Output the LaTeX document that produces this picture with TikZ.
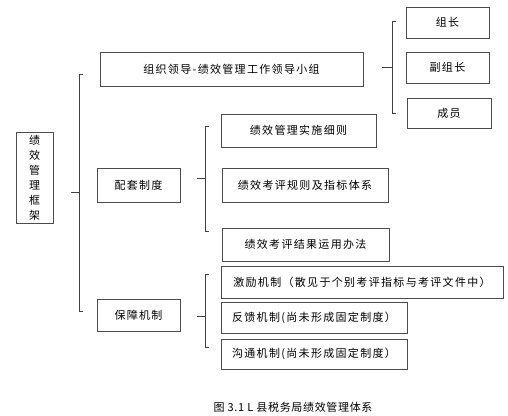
\documentclass[tikz,border=0pt]{standalone}
\usepackage{fontspec}
\newfontfamily\cjk[LetterSpace=12]{Noto Sans CJK SC}
\newfontfamily\cjkcap[LetterSpace=6]{Noto Sans CJK SC}
\usetikzlibrary{calc, shadows}

\begin{document}
\begin{tikzpicture}[x=1pt, y=-1pt,
    box/.style={draw=black!70, line width=0.9pt, fill=white, font=\cjk\fontsize{11}{15}\selectfont,
        inner sep=0pt, drop shadow={shadow xshift=1.3pt, shadow yshift=-1.3pt, fill=black!75, opacity=1}},
    brace/.style={draw=black!75, line width=0.8pt}]

    \useasboundingbox (0,0) rectangle (508,415);

    \node[box, minimum width=37, minimum height=91, align=center] (frame) at (34.5,177.5)
        {绩\\效\\管\\理\\框\\架};

    \node[box, minimum width=263, minimum height=34] (lead) at (231.5,69) {组织领导-绩效管理工作领导小组};
    \node[box, minimum width=83, minimum height=34] (rules) at (138.5,185) {配套制度};
    \node[box, minimum width=83, minimum height=32] (guard) at (138.5,315) {保障机制};

    \node[box, minimum width=155, minimum height=33] (detail) at (298.5,130.5) {绩效管理实施细则};
    \node[box, minimum width=166, minimum height=34] (index) at (305,185) {绩效考评规则及指标体系};
    \node[box, minimum width=167, minimum height=33] (usage) at (305.5,244.5) {绩效考评结果运用办法};

    \node[box, minimum width=282, minimum height=32] (spur) at (362,282) {激励机制（散见于个别考评指标与考评文件中）};
    \node[box, minimum width=186, minimum height=31] (back) at (314,317.5) {反馈机制(尚未形成固定制度）};
    \node[box, minimum width=186, minimum height=30] (talk) at (314,354) {沟通机制(尚未形成固定制度）};

    \node[box, minimum width=83, minimum height=31] (head) at (447.5,22.5) {组长};
    \node[box, minimum width=83, minimum height=31] (vice) at (447.5,67.5) {副组长};
    \node[box, minimum width=84, minimum height=30] (member) at (449,113) {成员};

    \coordinate (O) at ($(frame.east)+(18,14.5)$);
    \coordinate (P) at ($(rules.east)+(17,-7)$);
    \coordinate (Q) at ($(guard.east)+(17,1)$);
    \coordinate (R) at ($(lead.east)+(19,-2)$);

    \draw[brace] (O) -- ++(8,0);
    \draw[brace] ($(O)+(12,-118)$) -- ++(-4,0) |- ($(O)+(12,119)$);

    \draw[brace] (P) -- ++(8,0);
    \draw[brace] ($(P)+(12,-52)$) -- ++(-4,0) |- ($(P)+(12,53)$);

    \draw[brace] (Q) -- ++(8,0);
    \draw[brace] ($(Q)+(12,-42)$) -- ++(-4,0) |- ($(Q)+(12,31)$);

    \draw[brace] (R) -- ++(10,0);
    \draw[brace] ($(R)+(14,-46)$) -- ++(-4,0) |- ($(R)+(14,46)$);

    \node[font=\cjkcap\fontsize{11}{13}\selectfont] (caption) at (293,407) {图 3.1 L 县税务局绩效管理体系};

\end{tikzpicture}
\end{document}
